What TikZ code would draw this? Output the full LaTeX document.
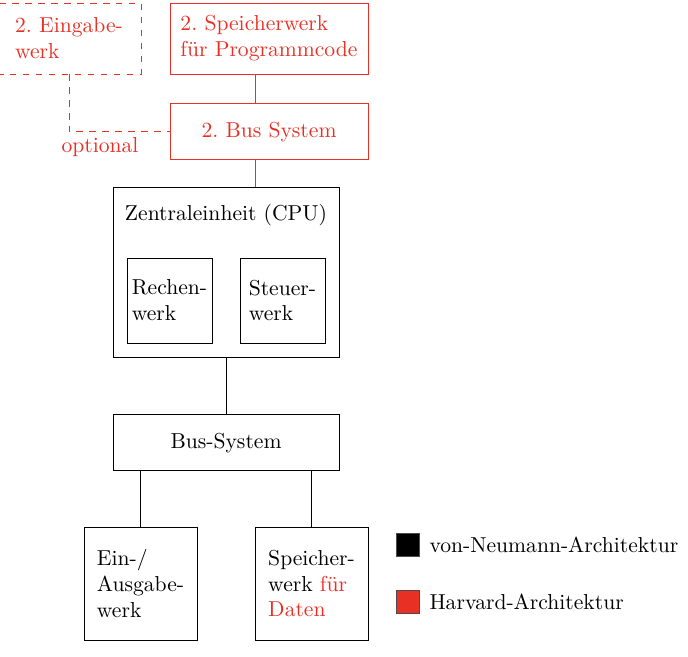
\documentclass[tikz,border=0pt]{standalone}
\usepackage{tikz}
\usetikzlibrary{positioning, calc}
\definecolor{harvardred}{RGB}{232,48,36}
\tikzset{
  unit/.style={rectangle, draw=black, align=left, text=black},
  harvard/.style={rectangle, draw=harvardred, text=harvardred, align=left},
  legendbox/.style={rectangle, draw=black!70, minimum size=0.374cm, inner sep=0pt},
  redline/.style={draw=harvardred}
}
\begin{document}
\begin{tikzpicture}
    \useasboundingbox (0,0) rectangle (11.187,-10.667);

    \node (sprog) [harvard, minimum width=3.22cm, minimum height=1.154cm] at (4.374,-0.626) {2.\ Speicherwerk\\für Programmcode};
    \node (eingabe) [harvard, dashed, minimum width=2.341cm, minimum height=1.154cm] at (1.122,-0.626) {2.\ Eingabe-\\werk};
    \node (bus2) [harvard, minimum width=3.22cm, minimum height=0.911cm, below=0.472cm of sprog] {2.\ Bus System};
    \node (optional) [text=harvardred] at (1.626,-2.39) {optional};

    \node (cpu) [unit, minimum width=3.675cm, minimum height=2.764cm] at (3.675,-4.423) {};
    \node (cputitle) at (3.675,-3.496) {Zentraleinheit (CPU)};
    \node (rechen) [unit, inner xsep=1pt, minimum size=1.382cm] at (2.756,-4.886) {Rechen-\\werk};
    \node (steuer) [unit, inner xsep=1pt, minimum size=1.382cm] at (4.593,-4.886) {Steuer-\\werk};
    \node (bus) [unit, minimum width=3.675cm, minimum height=0.911cm, below=0.927cm of cpu] {Bus-System};
    \node (ea) [unit, minimum size=1.837cm] at (2.285,-9.488) {Ein-/\\Ausgabe-\\werk};
    \node (daten) [unit, minimum size=1.837cm] at (5.065,-9.488) {Speicher-\\werk \textcolor{harvardred}{für}\\\textcolor{harvardred}{Daten}};

    % Legende
    \node (vnbox) [legendbox, fill=black] at (6.626,-8.854) {};
    \node (vntext) [right=0.4mm of vnbox] {von-Neumann-Architektur};
    \node (hvbox) [legendbox, fill=harvardred] at (6.626,-9.780) {};
    \node (hvtext) [right=0.4mm of hvbox] {Harvard-Architektur};

    % Verbindungen
    \coordinate (rail) at (4.146,0);
    \draw [redline] (sprog.south -| rail) -- (bus2.north -| rail);
    \draw [redline] (bus2.south -| rail) -- (cpu.north -| rail);
    \draw [redline, dashed] (eingabe.south) |- (bus2.west);
    \draw (cpu) -- (bus);
    \draw (bus.south -| ea) -- (ea);
    \draw (bus.south -| daten) -- (daten);
\end{tikzpicture}
\end{document}
